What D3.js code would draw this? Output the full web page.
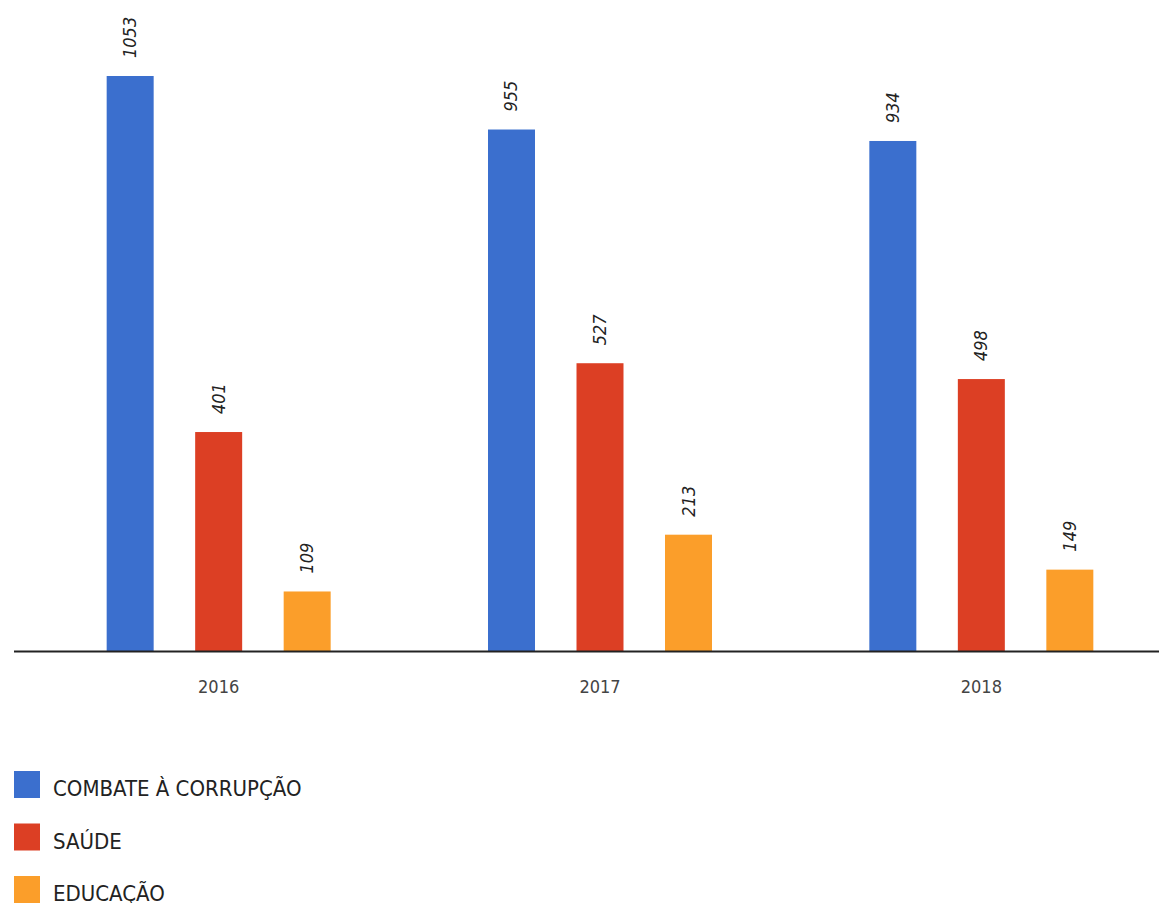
<!DOCTYPE html>
<html>
<head>
<meta charset="utf-8">
<script src="https://cdn.jsdelivr.net/npm/d3@7"></script>
<style>
  body { margin: 0; background: #fff; }
  svg { display: block; }
  text { font-family: "DejaVu Sans Condensed", "DejaVu Sans", sans-serif; }
</style>
</head>
<body>
<svg id="chart" width="1159" height="903"></svg>
<script>
// data
var years = ["2016", "2017", "2018"];
var series = ["COMBATE À CORRUPÇÃO", "SAÚDE", "EDUCAÇÃO"];
var colors = ["#3b6fce", "#dc3f24", "#fb9e2a"];
var values = [
    [1053, 401, 109],   // 2016
    [955, 527, 213],    // 2017
    [934, 498, 149]     // 2018
];

var svg = d3.select("#chart");

var x = d3.scaleBand()
    .domain(years)
    .range([28, 1172]);

var xs = d3.scaleBand()
    .domain(series)
    .range([-112, 112])
    .paddingInner(0.469);

var y = d3.scaleLinear()
    .domain([0, 1053])
    .range([651, 76]);

var color = d3.scaleOrdinal().domain(series).range(colors);

var groups = svg.selectAll("g.year")
    .data(years)
    .enter()
    .append("g")
        .attr("class", "year")
        .attr("transform", function(d){ return "translate(" + (x(d) + x.bandwidth()/2) + ",0)"; });

groups.selectAll("rect")
    .data(function(d, i){ return series.map(function(s, j){ return {s: s, v: values[i][j]}; }); })
    .enter()
    .append("rect")
        .attr("x", function(d){ return xs(d.s); })
        .attr("width", xs.bandwidth())
        .attr("y", function(d){ return y(d.v); })
        .attr("height", function(d){ return y(0) - y(d.v); })
        .attr("fill", function(d){ return color(d.s); });

// rotated value labels
groups.selectAll("text.val")
    .data(function(d, i){ return series.map(function(s, j){ return {s: s, v: values[i][j]}; }); })
    .enter()
    .append("text")
        .attr("class", "val")
        .attr("transform", function(d){
            var cx = xs(d.s) + xs.bandwidth()/2 + 6;
            return "translate(" + cx + "," + (y(d.v) - 18) + ") rotate(-90)";
        })
        .attr("font-size", 18)
        .attr("font-style", "italic")
        .attr("fill", "#222")
        .text(function(d){ return d.v; });

// baseline + year labels
var xAxis = d3.axisBottom(x).tickSize(0).tickPadding(29);
var ax = svg.append("g")
    .attr("transform", "translate(0," + y(0) + ")")
    .call(xAxis);
ax.select(".domain").remove();
ax.selectAll("text")
    .attr("font-family", "DejaVu Sans Condensed, DejaVu Sans, sans-serif")
    .attr("font-size", 18)
    .attr("fill", "#444");

svg.append("line")
    .attr("x1", 14).attr("x2", 1159)
    .attr("y1", y(0) + 0.5).attr("y2", y(0) + 0.5)
    .attr("stroke", "#222")
    .attr("stroke-width", 2);

// legend
var legend = svg.selectAll("g.leg")
    .data(series)
    .enter()
    .append("g")
        .attr("class", "leg")
        .attr("transform", function(d, i){ return "translate(14," + (771 + i*52.5) + ")"; });

legend.append("rect")
    .attr("width", 26)
    .attr("height", 27)
    .attr("fill", function(d){ return color(d); });

legend.append("text")
    .attr("x", 39)
    .attr("y", 25)
    .attr("font-size", 22)
    .attr("fill", "#222")
    .text(function(d){ return d; });
</script>
</body>
</html>
